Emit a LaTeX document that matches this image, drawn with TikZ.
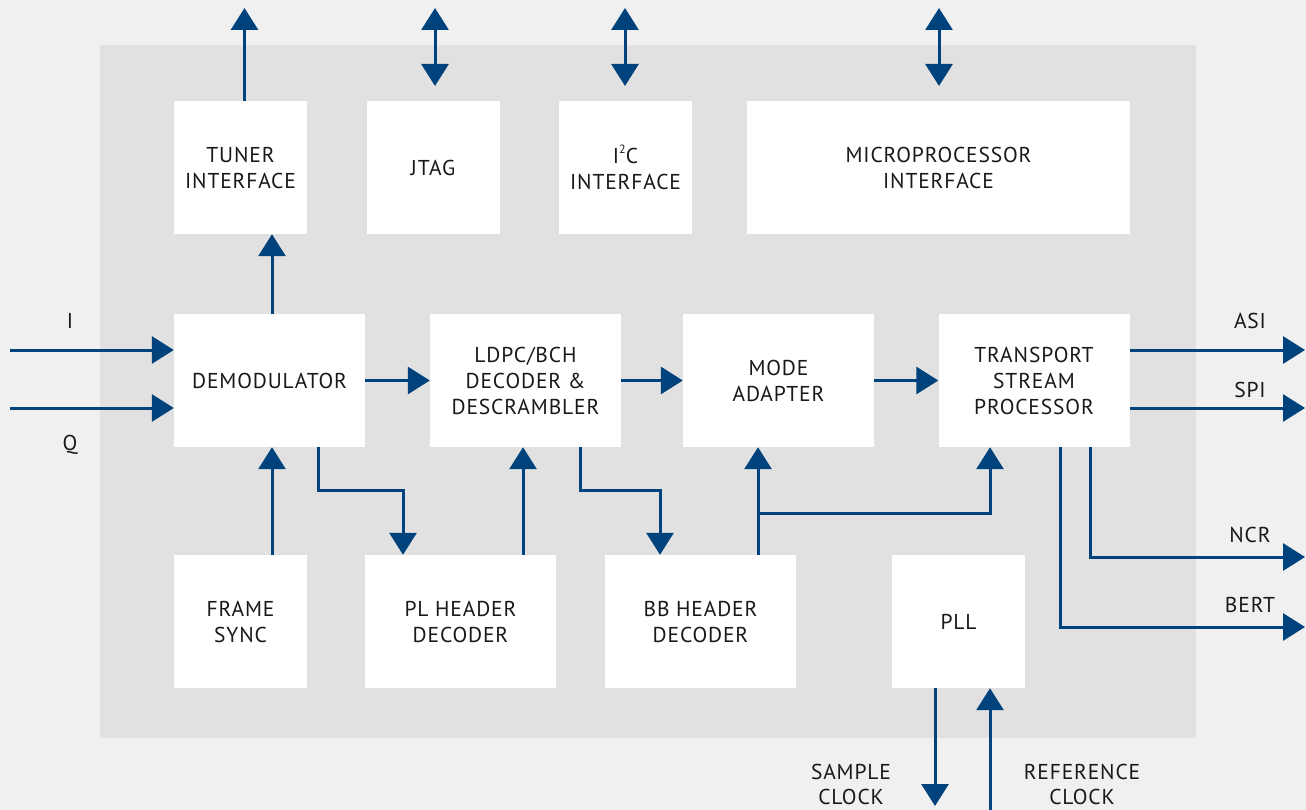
\documentclass[tikz,border=0pt]{standalone}
\usepackage{fontspec}
\setmainfont{PT Sans}[LetterSpace=4]
\usetikzlibrary{arrows.meta}
\definecolor{bgout}{RGB}{240,240,240}
\definecolor{bgin}{RGB}{225,225,225}
\definecolor{navy}{RGB}{0,66,124}
\newcommand{\supsm}[1]{\raisebox{0.45em}{\fontsize{12}{12}\selectfont #1}}
\begin{document}
\begin{tikzpicture}[x=1pt,y=-1pt,
  box/.style={fill=white, draw=none, align=center, inner sep=0pt, text=black!90, font=\fontsize{21.5}{26}\selectfont},
  sq/.style={box, minimum width=133pt, minimum height=133pt},
  wd/.style={box, minimum width=191pt, minimum height=133pt},
  lbl/.style={align=center, inner sep=0pt, text=black!90, font=\fontsize{21.5}{25}\selectfont},
  arr/.style={draw=navy, line width=3pt, line join=miter, -{Triangle[width=27pt,length=22pt,fill=navy]}},
  darr/.style={draw=navy, line width=3pt, {Triangle[width=27pt,length=22pt,fill=navy]}-{Triangle[width=27pt,length=22pt,fill=navy]}}]
\fill[bgout] (0,0) rectangle (1306,810);
\useasboundingbox (0,0) rectangle (1306,810);
\fill[bgin] (100,45) rectangle (1196,738);
% boxes
\node[sq] (tuner) at (240.5,167.5) {TUNER\\INTERFACE};
\node[sq] (jtag) at (433,167.5) {JTAG};
\node[sq] (iic) at (625.5,167.5) {I\supsm{2}C\\INTERFACE};
\node[box, minimum width=383pt, minimum height=133pt] (micro) at (938.5,167.5) {MICROPROCESSOR\\INTERFACE};
\node[wd] (demod) at (269.5,380.5) {DEMODULATOR};
\node[wd] (ldpc) at (525.5,380.5) {LDPC/BCH\\DECODER \&\\DESCRAMBLER};
\node[wd] (mode) at (778.5,380.5) {MODE\\ADAPTER};
\node[wd] (tsp) at (1034,380.5) {TRANSPORT\\STREAM\\PROCESSOR};
\node[sq] (frame) at (240.5,621.5) {FRAME\\SYNC};
\node[wd] (plh) at (460.5,621.5) {PL HEADER\\DECODER};
\node[wd] (bbh) at (700.5,621.5) {BB HEADER\\DECODER};
\node[sq] (pll) at (958.5,621.5) {PLL};
% free ends
\coordinate (tunerout) at (244.5,8);
\coordinate (jtagtop) at (435,8); \coordinate (jtagbot) at (435,86);
\coordinate (iictop) at (625,8); \coordinate (iicbot) at (625,86);
\coordinate (microtop) at (939,8); \coordinate (microbot) at (939,86);
\coordinate (iin) at (10,350); \coordinate (qin) at (10,408);
\coordinate (asi) at (1305,350); \coordinate (spi) at (1305,408);
\coordinate (ncr) at (1305,557); \coordinate (bert) at (1305,627);
\coordinate (sclk) at (935,806); \coordinate (rclk) at (990,810);
% arrows
\draw[arr] (tuner.north -| tunerout) -- (tunerout);
\draw[darr] (jtagtop) -- (jtagbot);
\draw[darr] (iictop) -- (iicbot);
\draw[darr] (microtop) -- (microbot);
\draw[arr] ([xshift=2.5pt]demod.north) -- ([xshift=2.5pt]demod.north |- tuner.south);
\draw[arr] (iin) -- (iin -| demod.west);
\draw[arr] (qin) -- (qin -| demod.west);
\draw[arr] (demod.east) -- (ldpc.west);
\draw[arr] (ldpc.east) -- (mode.west);
\draw[arr] (mode.east) -- (tsp.west);
\draw[arr] ([xshift=2.5pt]frame.north -| demod.south) -- ([xshift=2.5pt]demod.south);
\draw[arr] ([xshift=48.5pt]demod.south) -- ++(0,43) -| ([xshift=-57.5pt]plh.north);
\draw[arr] ([xshift=62.5pt]plh.north) -- ([xshift=62.5pt]plh.north |- ldpc.south);
\draw[arr] ([xshift=54.5pt]ldpc.south) -- ++(0,43) -| ([xshift=-40.5pt]bbh.north);
\draw[arr] ([xshift=57.5pt]bbh.north) -- ([xshift=57.5pt]bbh.north |- mode.south);
\draw[arr] ([xshift=57.5pt,yshift=41pt]bbh.north) -| ([xshift=-44pt]tsp.south);
\draw[arr] (asi -| tsp.east) -- (asi);
\draw[arr] (spi -| tsp.east) -- (spi);
\draw[arr] ([xshift=56pt]tsp.south) |- (ncr);
\draw[arr] ([xshift=26pt]tsp.south) |- (bert);
\draw[arr] (sclk |- pll.south) -- (sclk);
\draw[arr] (rclk) -- (rclk |- pll.south);
% labels
\node[lbl] (ilbl) at (70,321) {I};
\node[lbl] (qlbl) at (70,445) {Q};
\node[lbl] (asilbl) at (1250,321) {ASI};
\node[lbl] (spilbl) at (1250,390) {SPI};
\node[lbl] (ncrlbl) at (1250,535) {NCR};
\node[lbl] (bertlbl) at (1250,605) {BERT};
\node[lbl] (sclklbl) at (851,784) {SAMPLE\\CLOCK};
\node[lbl] (rclklbl) at (1082,784) {REFERENCE\\CLOCK};
\end{tikzpicture}
\end{document}
